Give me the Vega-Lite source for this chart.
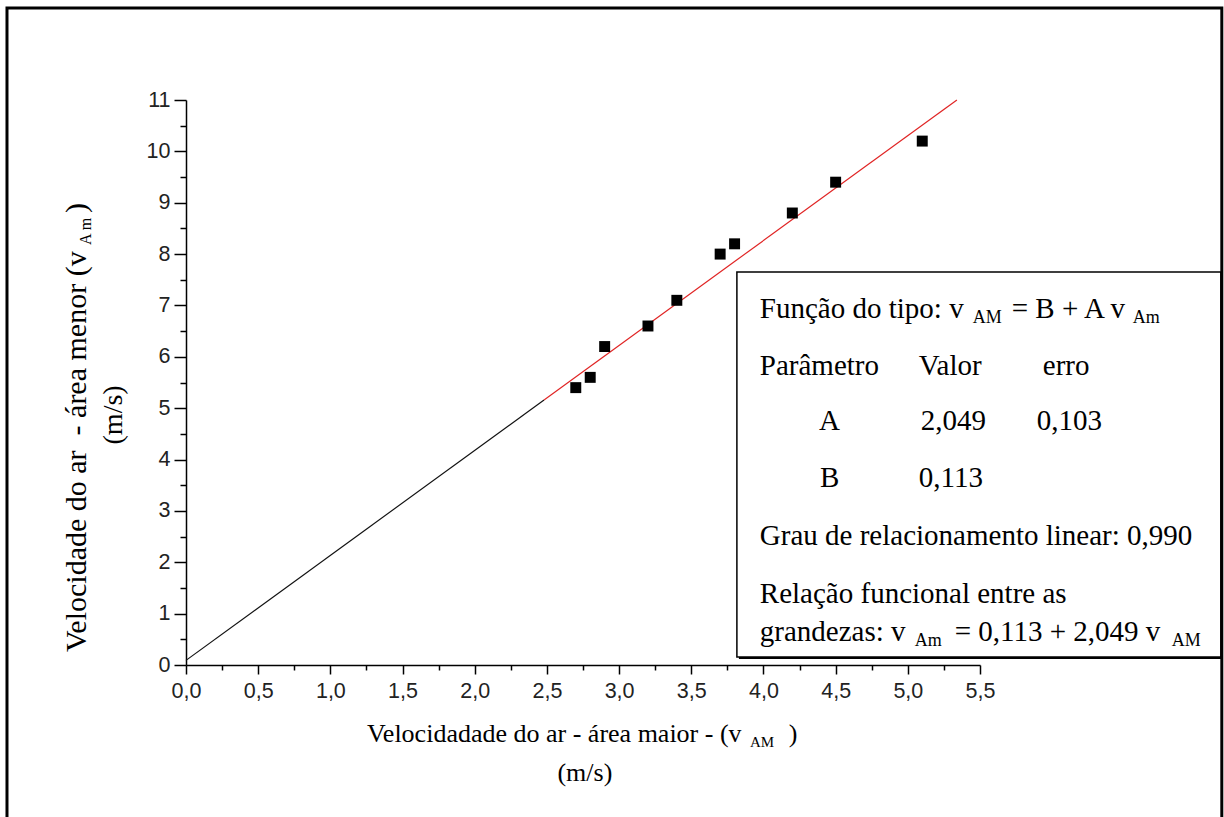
{
  "$schema": "https://vega.github.io/schema/vega-lite/v6.json",
  "width": 794,
  "height": 565,
  "autosize": {"type": "none"},
  "padding": {"left": 186, "top": 100, "right": 244, "bottom": 152},
  "background": "white",
  "config": {"view": {"stroke": null}},
  "datasets": {
    "points": [
      {"x": 2.7, "y": 5.4}, {"x": 2.8, "y": 5.6}, {"x": 2.9, "y": 6.2},
      {"x": 3.2, "y": 6.6}, {"x": 3.4, "y": 7.1}, {"x": 3.7, "y": 8.0},
      {"x": 3.8, "y": 8.2}, {"x": 4.2, "y": 8.8}, {"x": 4.5, "y": 9.4},
      {"x": 5.1, "y": 10.2}
    ],
    "lines": [
      {"x": 0, "y": 0.09, "s": "extrapolated"},
      {"x": 2.48, "y": 5.16, "s": "extrapolated"},
      {"x": 2.48, "y": 5.16, "s": "fit"},
      {"x": 5.34, "y": 11.0, "s": "fit"}
    ],
    "frame": [{"x": -1.24, "x2": 7.175, "y": 12.79, "y2": -3.4}],
    "shadow": [{"x": 3.83, "x2": 7.182, "y": 7.614, "y2": 0.117}],
    "box": [{"x": 3.816, "x2": 7.168, "y": 7.653, "y2": 0.156}],
    "leg": [
      {"x": 3.975, "y": 6.758, "t": "Função do tipo: v"},
      {"x": 5.72, "y": 6.758, "t": "= B + A v"},
      {"x": 3.975, "y": 5.648, "t": "Parâmetro"},
      {"x": 5.076, "y": 5.648, "t": "Valor"},
      {"x": 5.935, "y": 5.648, "t": "erro"},
      {"x": 4.384, "y": 4.576, "t": "A"},
      {"x": 5.09, "y": 4.576, "t": "2,049"},
      {"x": 5.893, "y": 4.576, "t": "0,103"},
      {"x": 4.391, "y": 3.466, "t": "B"},
      {"x": 5.076, "y": 3.466, "t": "0,113"},
      {"x": 3.975, "y": 2.337, "t": "Grau de relacionamento linear: 0,990"},
      {"x": 3.975, "y": 1.207, "t": "Relação funcional entre as"},
      {"x": 3.975, "y": 0.467, "t": "grandezas: v"},
      {"x": 5.325, "y": 0.467, "t": "= 0,113 + 2,049 v"}
    ],
    "legsub": [
      {"x": 5.45, "y": 6.66, "t": "AM"},
      {"x": 6.558, "y": 6.66, "t": "Am"},
      {"x": 5.048, "y": 0.37, "t": "Am"},
      {"x": 6.828, "y": 0.37, "t": "AM"}
    ],
    "xtitle": [
      {"x": 1.2535, "y": -1.4995, "t": "Velocidadade do ar - área maior - (v"},
      {"x": 4.176, "y": -1.4995, "t": ")"}
    ],
    "xtitlesub": [{"x": 3.906, "y": -1.597, "t": "AM"}],
    "xunit": [{"x": 2.763, "y": -2.259, "t": "(m/s)"}],
    "ytitle": [
      {"x": -0.6925, "y": 0.253, "t": "Velocidade do ar \u00a0- área menor (v"},
      {"x": -0.6925, "y": 8.802, "t": ")"}
    ],
    "ytitlesub": [{"x": -0.655, "y": 8.179, "t": "A m"}],
    "yunit": [{"x": -0.443, "y": 4.869, "t": "(m/s)"}]
  },
  "encoding": {
    "x": {
      "field": "x", "type": "quantitative",
      "scale": {"domain": [0, 5.5], "nice": false, "zero": false},
      "axis": {
        "title": null,
        "values": [0, 0.25, 0.5, 0.75, 1, 1.25, 1.5, 1.75, 2, 2.25, 2.5, 2.75, 3, 3.25, 3.5, 3.75, 4, 4.25, 4.5, 4.75, 5, 5.25, 5.5],
        "labelExpr": "datum.value % 0.5 === 0 ? replace(format(datum.value, '.1f'), '.', ',') : ''",
        "tickSize": {"condition": {"test": "datum.value % 0.5 !== 0", "value": 5}, "value": 9},
        "grid": false,
        "domainColor": "black", "domainWidth": 1.5,
        "tickColor": "black", "tickWidth": 1.5,
        "labelFont": "Liberation Sans", "labelFontSize": 21.5, "labelColor": "#222",
        "labelPadding": 6, "labelOverlap": false, "labelFlush": false
      }
    },
    "y": {
      "field": "y", "type": "quantitative",
      "scale": {"domain": [0, 11], "nice": false, "zero": false},
      "axis": {
        "title": null,
        "values": [0, 0.5, 1, 1.5, 2, 2.5, 3, 3.5, 4, 4.5, 5, 5.5, 6, 6.5, 7, 7.5, 8, 8.5, 9, 9.5, 10, 10.5, 11],
        "labelExpr": "datum.value % 1 === 0 ? format(datum.value, 'd') : ''",
        "tickSize": {"condition": {"test": "datum.value % 1 !== 0", "value": 6}, "value": 12},
        "grid": false,
        "domainColor": "black", "domainWidth": 1.5,
        "tickColor": "black", "tickWidth": 1.5,
        "labelFont": "Liberation Sans", "labelFontSize": 21.5, "labelColor": "#222",
        "labelPadding": 4, "labelOverlap": false, "labelFlush": false
      }
    }
  },
  "layer": [
    {
      "data": {"name": "frame"},
      "mark": {"type": "rect", "fill": null, "stroke": "black", "strokeWidth": 3, "clip": false},
      "encoding": {"x2": {"field": "x2"}, "y2": {"field": "y2"}}
    },
    {
      "data": {"name": "lines"},
      "mark": {"type": "line", "strokeWidth": 1.2, "clip": false},
      "encoding": {
        "color": {"field": "s", "type": "nominal", "scale": {"domain": ["extrapolated", "fit"], "range": ["#111111", "#e02424"]}, "legend": null},
        "detail": {"field": "s"}
      }
    },
    {
      "data": {"name": "points"},
      "mark": {"type": "point", "shape": "square", "filled": true, "size": 120, "color": "black", "opacity": 1}
    },
    {
      "data": {"name": "shadow"},
      "mark": {"type": "rect", "fill": "black", "clip": false},
      "encoding": {"x2": {"field": "x2"}, "y2": {"field": "y2"}}
    },
    {
      "data": {"name": "box"},
      "mark": {"type": "rect", "fill": "white", "stroke": "black", "strokeWidth": 1.5, "clip": false},
      "encoding": {"x2": {"field": "x2"}, "y2": {"field": "y2"}}
    },
    {
      "data": {"name": "leg"},
      "mark": {"type": "text", "font": "Liberation Serif", "fontSize": 29, "align": "left", "baseline": "alphabetic", "color": "black", "clip": false},
      "encoding": {"text": {"field": "t"}}
    },
    {
      "data": {"name": "legsub"},
      "mark": {"type": "text", "font": "Liberation Serif", "fontSize": 18, "align": "left", "baseline": "alphabetic", "color": "black", "clip": false},
      "encoding": {"text": {"field": "t"}}
    },
    {
      "data": {"name": "xtitle"},
      "mark": {"type": "text", "font": "Liberation Serif", "fontSize": 26, "align": "left", "baseline": "alphabetic", "color": "black", "clip": false},
      "encoding": {"text": {"field": "t"}}
    },
    {
      "data": {"name": "xtitlesub"},
      "mark": {"type": "text", "font": "Liberation Serif", "fontSize": 15, "align": "left", "baseline": "alphabetic", "color": "black", "clip": false},
      "encoding": {"text": {"field": "t"}}
    },
    {
      "data": {"name": "xunit"},
      "mark": {"type": "text", "font": "Liberation Serif", "fontSize": 26, "align": "center", "baseline": "alphabetic", "color": "black", "clip": false},
      "encoding": {"text": {"field": "t"}}
    },
    {
      "data": {"name": "ytitle"},
      "mark": {"type": "text", "font": "Liberation Serif", "fontSize": 30, "angle": 270, "align": "left", "baseline": "alphabetic", "color": "black", "clip": false},
      "encoding": {"text": {"field": "t"}}
    },
    {
      "data": {"name": "ytitlesub"},
      "mark": {"type": "text", "font": "Liberation Serif", "fontSize": 16, "angle": 270, "align": "left", "baseline": "alphabetic", "color": "black", "clip": false},
      "encoding": {"text": {"field": "t"}}
    },
    {
      "data": {"name": "yunit"},
      "mark": {"type": "text", "font": "Liberation Serif", "fontSize": 28, "angle": 270, "align": "center", "baseline": "alphabetic", "color": "black", "clip": false},
      "encoding": {"text": {"field": "t"}}
    }
  ]
}
